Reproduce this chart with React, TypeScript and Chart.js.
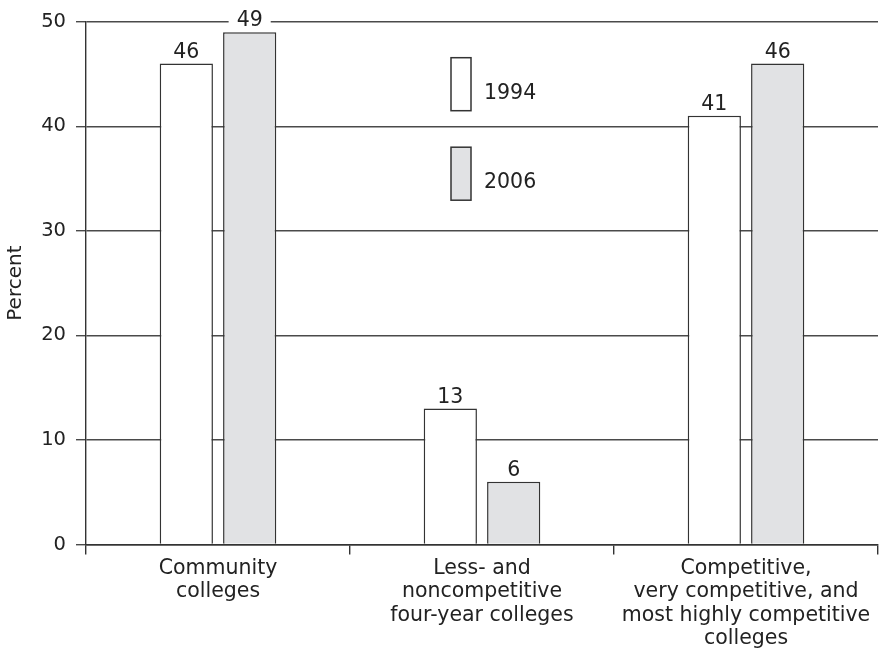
import React, { useEffect, useRef } from "react";
import { Chart, registerables } from "chart.js";

Chart.register(...registerables);

const categories: string[][] = [
  ["Community", "colleges"],
  ["Less- and", "noncompetitive", "four-year colleges"],
  ["Competitive,", "very competitive, and", "most highly competitive", "colleges"],
];
const seriesLabels = ["1994", "2006"];
const values1994 = [46, 13, 41];
const values2006 = [49, 6, 46];
const yMin = 0;
const yMax = 50;
const yStep = 10;
const yTitle = "Percent";

const FONT = "'DejaVu Sans', sans-serif";
const TEXT = "#222";
const LINE = "#4a4a4a";

const valueLabels = {
  id: "valueLabels",
  afterDatasetsDraw(chart: any) {
    const ctx = chart.ctx;
    ctx.save();
    ctx.font = `20.5px ${FONT}`;
    ctx.textAlign = "center";
    ctx.textBaseline = "alphabetic";
    chart.data.datasets.forEach((ds: any, di: number) => {
      const meta = chart.getDatasetMeta(di);
      meta.data.forEach((el: any, i: number) => {
        const txt = String(ds.data[i]);
        const w = ctx.measureText(txt).width;
        const base = el.y - 6;
        ctx.fillStyle = "#fff";
        ctx.fillRect(el.x - w / 2 - 8, base - 16, w + 16, 18);
        ctx.fillStyle = TEXT;
        ctx.fillText(txt, el.x, base);
      });
    });
    ctx.restore();
  },
};

const innerLegend = {
  id: "innerLegend",
  afterDraw(chart: any) {
    const ctx = chart.ctx;
    const area = chart.chartArea;
    ctx.save();
    ctx.font = `20.5px ${FONT}`;
    ctx.textAlign = "left";
    ctx.textBaseline = "alphabetic";
    chart.data.datasets.forEach((ds: any, i: number) => {
      const bx = area.left + 365;
      const by = area.top + 36 + i * 89.5;
      ctx.fillStyle = ds.backgroundColor;
      ctx.fillRect(bx, by, 20, 53);
      ctx.strokeStyle = ds.borderColor;
      ctx.lineWidth = 1.5;
      ctx.strokeRect(bx, by, 20, 53);
      ctx.fillStyle = TEXT;
      ctx.fillText(ds.label, bx + 33, by + 41);
    });
    ctx.restore();
  },
};

export default function App() {
  const ref = useRef<HTMLCanvasElement | null>(null);
  useEffect(() => {
    if (!ref.current) return;
    const chart = new Chart(ref.current, {
      type: "bar",
      data: {
        labels: categories,
        datasets: [
          {
            label: seriesLabels[0],
            data: values1994,
            backgroundColor: "#ffffff",
            borderColor: "#333",
            borderWidth: 1.5,
            categoryPercentage: 0.48,
            barPercentage: 0.84,
          },
          {
            label: seriesLabels[1],
            data: values2006,
            backgroundColor: "#e1e2e4",
            borderColor: "#333",
            borderWidth: 1.5,
            categoryPercentage: 0.48,
            barPercentage: 0.84,
          },
        ],
      },
      options: {
        responsive: false,
        animation: false,
        layout: { padding: { left: 0, right: 6, top: 19.5, bottom: 0 } },
        plugins: {
          legend: { display: false },
          tooltip: { enabled: false },
        },
        scales: {
          x: {
            grid: {
              offset: true,
              drawOnChartArea: false,
              drawTicks: true,
              tickLength: 10,
              color: "#333",
              lineWidth: 1.4,
            },
            border: { display: true, color: "#333", width: 1.4 },
            ticks: {
              color: TEXT,
              font: { family: FONT, size: 20.5, lineHeight: 1.15 },
              padding: 2,
              maxRotation: 0,
              autoSkip: false,
            },
            afterFit: (s: any) => {
              s.height = 104.5;
            },
          },
          y: {
            min: yMin,
            max: yMax,
            ticks: {
              stepSize: yStep,
              color: TEXT,
              font: { family: FONT, size: 19.5 },
              padding: 10,
            },
            grid: {
              color: LINE,
              lineWidth: 1.4,
              tickLength: 10,
              drawTicks: true,
            },
            border: { display: true, color: "#333", width: 1.4 },
            title: {
              display: true,
              text: yTitle,
              color: TEXT,
              font: { family: FONT, size: 20 },
              padding: { top: 4, bottom: 0 },
            },
            afterFit: (s: any) => {
              s.width = 86;
            },
          },
        },
      },
      plugins: [valueLabels, innerLegend],
    });
    return () => chart.destroy();
  }, []);
  return (
    <div style={{ position: "absolute", left: 0, top: 0, width: 884, height: 649, background: "#fff" }}>
      <canvas ref={ref} width={884} height={649} />
    </div>
  );
}
